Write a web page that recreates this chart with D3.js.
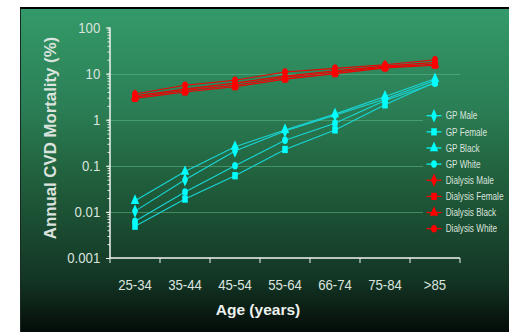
<!DOCTYPE html>
<html><head><meta charset="utf-8">
<script src="https://cdn.jsdelivr.net/npm/d3@7"></script>
<style>body{margin:0;background:#fff}svg{display:block}</style>
</head><body>
<svg id="c" width="509" height="332"></svg>
<script>
const categories = ["25-34","35-44","45-54","55-64","66-74","75-84",">85"];
const gpMale       = [0.0104, 0.05, 0.21, 0.57, 1.25, 2.8, 7.1];
const gpFemale     = [0.0049, 0.019, 0.061, 0.226, 0.6, 2.1, 6.5];
const gpBlack      = [0.0175, 0.075, 0.26, 0.6, 1.32, 3.2, 7.7];
const gpWhite      = [0.0063, 0.027, 0.1, 0.36, 0.84, 2.6, 6.2];
const dialMale     = [3.3, 4.6, 6.2, 8.8, 11.5, 14.5, 17.5];
const dialFemale   = [2.9, 4.0, 5.2, 7.6, 10.0, 13.3, 15.2];
const dialBlack    = [3.1, 4.3, 5.6, 8.2, 10.8, 13.8, 16.0];
const dialWhite    = [3.6, 5.6, 7.2, 10.8, 13.0, 15.6, 20.0];
const seriesNames  = ["GP Male","GP Female","GP Black","GP White","Dialysis Male","Dialysis Female","Dialysis Black","Dialysis White"];
const yTicks       = [0.001, 0.01, 0.1, 1, 10, 100];
const yTickLabels  = ["0.001","0.01","0.1","1","10","100"];
const gridValues   = [0.01, 0.1, 1, 10];

const seriesValues = [gpMale, gpFemale, gpBlack, gpWhite, dialMale, dialFemale, dialBlack, dialWhite];
const symbols = [d3.symbolDiamond, d3.symbolSquare, d3.symbolTriangle, d3.symbolCircle];
const series = seriesNames.map((n,i)=>({
  name:n, values:seriesValues[i],
  color: i<4 ? "#00ffff" : "#ff0000",
  lineColor: i<4 ? "#19d6d6" : "#f00000",
  symbol: symbols[i%4]
}));

const svg = d3.select("#c");
const defs = svg.append("defs");
const grad = defs.append("linearGradient").attr("id","bg")
  .attr("gradientUnits","userSpaceOnUse").attr("x1",0).attr("y1",8).attr("x2",0).attr("y2",332);
[[0,"#349a69"],[0.3,"#2b7f56"],[0.5,"#22633f"],[0.84,"#133524"],[1,"#040c08"]]
  .forEach(([o,c])=>grad.append("stop").attr("offset",o).attr("stop-color",c));

svg.append("rect").attr("x",21).attr("y",8).attr("width",488).attr("height",324).attr("fill","url(#bg)");
svg.append("line").attr("x1",20).attr("x2",509).attr("y1",8).attr("y2",8).attr("stroke","#000").attr("stroke-width",2);
svg.append("line").attr("x1",20.5).attr("x2",20.5).attr("y1",8).attr("y2",332).attr("stroke","#1a2a20").attr("stroke-width",1);

const x = d3.scaleBand().domain(categories).range([110,460]);
const y = d3.scaleLog().domain([0.001,100]).range([258,27.5]);
const bw = x.bandwidth();
const cx = c => x(c) + bw/2;

// gridlines
svg.append("g").selectAll("line").data(gridValues).join("line")
  .attr("x1",110).attr("x2",460)
  .attr("y1",d=>Math.round(y(d))+0.5).attr("y2",d=>Math.round(y(d))+0.5)
  .attr("stroke","#5fb98a").attr("stroke-opacity",0.55).attr("stroke-width",1);

const txt = "#dbe3de";
const font = "'Liberation Sans',Arial,sans-serif";

// y axis minor ticks
const yMinor = svg.append("g").attr("transform","translate(110,0)")
  .call(d3.axisLeft(y).tickValues(y.ticks()).tickSize(2.5).tickFormat(""));
yMinor.select(".domain").remove();
yMinor.selectAll("line").attr("stroke","#e8ece9");

// y axis major
const yAx = svg.append("g").attr("transform","translate(110,0)")
  .call(d3.axisLeft(y).tickValues(yTicks).tickSize(4).tickPadding(7)
    .tickFormat((d,i)=>yTickLabels[i]));
yAx.select(".domain").attr("stroke","#f2f4f2").attr("stroke-width",1.5).attr("d","M0,27.5V258");
yAx.selectAll("line").attr("stroke","#f2f4f2");
yAx.selectAll("text").attr("fill",txt).attr("font-family",font).attr("font-size",15.5)
  .attr("x",-11.5).attr("transform","scale(0.85,1)");

// x axis
const xAx = svg.append("g").attr("transform","translate(0,258)")
  .call(d3.axisBottom(x).tickSize(0).tickPadding(21));
xAx.select(".domain").attr("stroke","#f2f4f2").attr("stroke-width",1.5).attr("d","M110,0H460");
xAx.selectAll("text").attr("fill",txt).attr("font-family",font).attr("font-size",15.5)
  .attr("transform","scale(0.85,1)");
svg.append("g").selectAll("line").data(categories.map(c=>x(c)).concat([x.range()[1]])).join("line")
  .attr("x1",d=>d).attr("x2",d=>d).attr("y1",258).attr("y2",263)
  .attr("stroke","#f2f4f2").attr("stroke-width",1);

// axis titles
svg.append("text").attr("x",258).attr("y",315).attr("text-anchor","middle")
  .attr("font-family",font).attr("font-weight","bold")
  .attr("font-size",15.5).attr("fill","#eef2ef").text("Age (years)");
svg.append("text").attr("transform","translate(56,138) rotate(-90)").attr("text-anchor","middle")
  .attr("font-family",font).attr("font-weight","bold")
  .attr("font-size",16.8).attr("fill",txt).text("Annual CVD Mortality (%)");

// series
const line = d3.line().x((d,i)=>cx(categories[i])).y(d=>y(d));
const gS = svg.append("g");
series.forEach(s=>{
  gS.append("path").attr("d",line(s.values)).attr("fill","none")
    .attr("stroke",s.lineColor).attr("stroke-width",1.1);
});
series.forEach(s=>{
  gS.append("g").selectAll("path").data(s.values).join("path")
    .attr("d",d3.symbol().type(s.symbol).size(s.symbol===d3.symbolCircle?40:48))
    .attr("transform",(d,i)=>`translate(${cx(categories[i])},${y(d)}) scale(0.8,1.05)`)
    .attr("fill",s.color);
});

// legend
const lg = svg.append("g");
lg.append("rect").attr("x",423).attr("y",104).attr("width",86).attr("height",136).attr("fill","url(#bg)");
series.forEach((s,i)=>{
  const yy = 115.7 + i*16.14;
  lg.append("line").attr("x1",426.5).attr("x2",441.5).attr("y1",yy).attr("y2",yy)
    .attr("stroke",s.color).attr("stroke-width",1.2);
  lg.append("path").attr("d",d3.symbol().type(s.symbol).size(s.symbol===d3.symbolCircle?40:48))
    .attr("transform",`translate(434,${yy}) scale(0.8,1.05)`).attr("fill",s.color);
  lg.append("text").attr("transform",`translate(445.7,${yy}) scale(0.78,1)`).attr("dy","0.35em")
    .attr("font-family",font).attr("font-size",10.5).attr("fill",txt).text(s.name);
});
</script>
</body></html>
